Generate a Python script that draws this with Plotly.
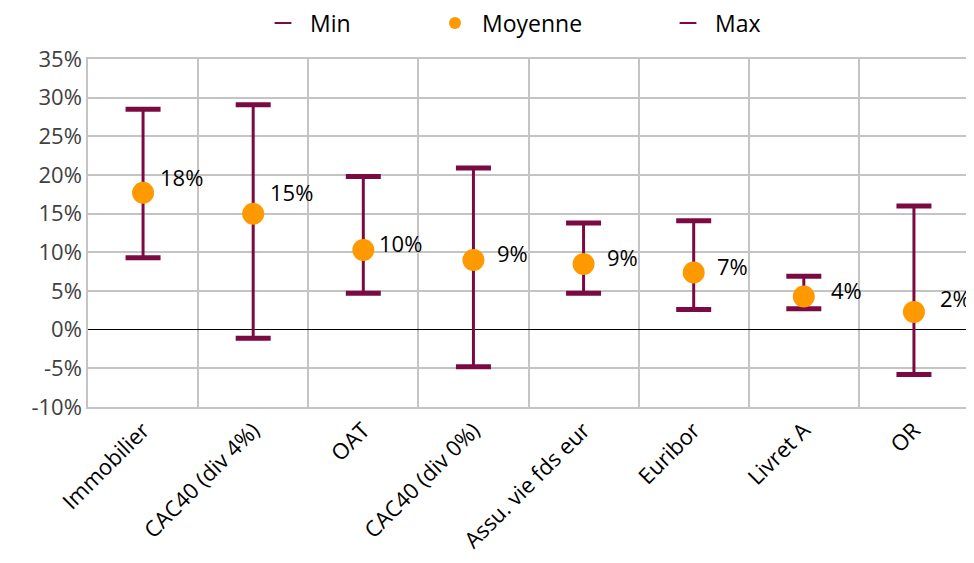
import plotly.graph_objects as go

categories = ["Immobilier", "CAC40 (div 4%)", "OAT", "CAC40 (div 0%)",
              "Assu. vie fds eur", "Euribor", "Livret A", "OR"]
val_min = [9.3, -1.1, 4.7, -4.8, 4.7, 2.6, 2.7, -5.8]
val_mean = [17.7, 15.0, 10.3, 9.0, 8.5, 7.4, 4.3, 2.3]
val_max = [28.5, 29.1, 19.8, 20.9, 13.8, 14.1, 6.9, 16.0]
mean_labels = ["18%", "15%", "10%", "9%", "9%", "7%", "4%", "2%"]
y_ticks = [-10, -5, 0, 5, 10, 15, 20, 25, 30, 35]
y_ticktext = ["-10%", "-5%", "0%", "5%", "10%", "15%", "20%", "25%", "30%", "35%"]

# label offsets (pixels) relative to each mean marker
label_dx = [17, 17, 16, 24, 23, 23, 27, 26]
label_dy = [16, 22, 7, 7, 7, 6, 6, 14]

MAROON = "#7C0A42"
ORANGE = "#FF9900"
FONT = "Open Sans"

# page body has an 8px margin, so the figure is sized to fit the window
W, H = 966, 547
ML, MR, MT, MB = 80, 5, 51, 148
PW = W - ML - MR

err_plus = [mx - m for mx, m in zip(val_max, val_mean)]
err_minus = [m - mn for m, mn in zip(val_mean, val_min)]

fig = go.Figure()

# stems
fig.add_trace(go.Scatter(
    x=categories, y=val_mean, mode="markers", showlegend=False,
    marker=dict(size=1, color="rgba(0,0,0,0)"),
    error_y=dict(type="data", symmetric=False, array=err_plus,
                 arrayminus=err_minus, color=MAROON, thickness=3, width=0),
    hoverinfo="skip",
))

fig.add_trace(go.Scatter(
    x=categories, y=val_min, mode="markers", name="Min", legend="legend",
    marker=dict(symbol="line-ew-open", size=25, color=MAROON,
                line=dict(color=MAROON, width=5)),
))
fig.add_trace(go.Scatter(
    x=categories, y=val_mean, mode="markers", name="Moyenne", legend="legend2",
    marker=dict(symbol="circle", size=22, color=ORANGE),
))
fig.add_trace(go.Scatter(
    x=categories, y=val_max, mode="markers", name="Max", legend="legend3",
    marker=dict(symbol="line-ew-open", size=25, color=MAROON,
                line=dict(color=MAROON, width=5)),
))

annotations = []
for c, m, t, dx, dy in zip(categories, val_mean, mean_labels, label_dx, label_dy):
    annotations.append(dict(
        x=c, y=m, xref="x", yref="y", text=t, showarrow=False,
        xanchor="left", yanchor="middle", xshift=dx - 2, yshift=dy,
        font=dict(family=FONT, size=22, color="#000000"),
    ))

def leg(left_px):
    return dict(orientation="h", x=(left_px - ML) / PW, xanchor="left", y=1.103,
                yanchor="middle", font=dict(family=FONT, size=23, color="#000000"),
                itemsizing="constant", itemwidth=44,
                bgcolor="rgba(0,0,0,0)", borderwidth=0)

fig.update_layout(
    width=W, height=H,
    margin=dict(l=ML, r=MR, t=MT, b=MB, autoexpand=False),
    paper_bgcolor="white", plot_bgcolor="white",
    font=dict(family=FONT, size=22, color="#404040"),
    showlegend=True,
    legend=leg(248),
    legend2=leg(420),
    legend3=leg(653),
    annotations=annotations,
    xaxis=dict(type="category", tickson="boundaries", showgrid=True,
               gridcolor="#C4C4C4", gridwidth=1.5, tickangle=-45,
               tickfont=dict(size=22, color="#000000"),
               showline=True, mirror=True, linecolor="#C4C4C4", linewidth=1.5,
               ticks="", range=[-0.5, 7.5], automargin=False),
    yaxis=dict(range=[-10, 35], tickvals=y_ticks, ticktext=y_ticktext,
               showgrid=True, gridcolor="#C4C4C4", gridwidth=1.5,
               zeroline=True, zerolinecolor="#000000", zerolinewidth=1,
               showline=True, mirror=True, linecolor="#C4C4C4", linewidth=1.5,
               ticks="", tickfont=dict(size=22, color="#404040"), automargin=False),
)

fig.write_html("out.html")
